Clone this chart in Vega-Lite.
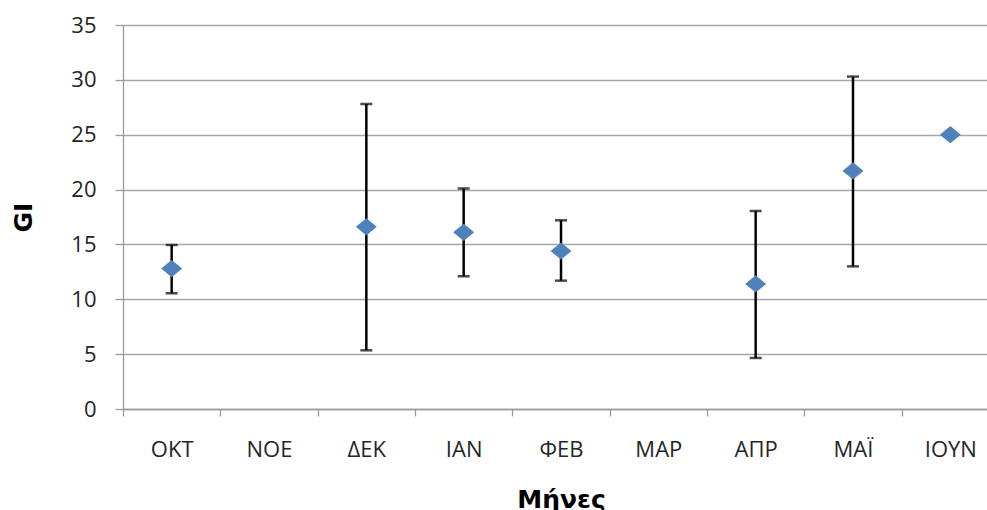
{
  "$schema": "https://vega.github.io/schema/vega-lite/v6.json",
  "autosize": "none",
  "width": 876,
  "height": 384,
  "padding": {"left": 123, "top": 25, "right": 0, "bottom": 101},
  "background": "white",
  "config": {
    "view": {"stroke": null},
    "font": "Open Sans"
  },
  "data": {
    "values": [
      {"month": "ΟΚΤ", "gi": 12.8, "lo": 10.55, "hi": 14.95},
      {"month": "ΔΕΚ", "gi": 16.6, "lo": 5.35, "hi": 27.8},
      {"month": "ΙΑΝ", "gi": 16.1, "lo": 12.1, "hi": 20.1},
      {"month": "ΦΕΒ", "gi": 14.4, "lo": 11.7, "hi": 17.2},
      {"month": "ΑΠΡ", "gi": 11.4, "lo": 4.65, "hi": 18.05},
      {"month": "ΜΑΪ", "gi": 21.7, "lo": 13.0, "hi": 30.3},
      {"month": "ΙΟΥΝ", "gi": 25.0}
    ]
  },
  "encoding": {
    "x": {
      "field": "month",
      "type": "nominal",
      "sort": null,
      "scale": {
        "domain": ["ΟΚΤ", "ΝΟΕ", "ΔΕΚ", "ΙΑΝ", "ΦΕΒ", "ΜΑΡ", "ΑΠΡ", "ΜΑΪ", "ΙΟΥΝ"],
        "paddingInner": 0,
        "paddingOuter": 0
      },
      "axis": {
        "title": "Μήνες",
        "titleFont": "DejaVu Sans",
        "titleFontWeight": "bold",
        "titleFontSize": 25,
        "titleColor": "#000000",
        "titleBaseline": "top",
        "titleX": 438,
        "titleY": 78,
        "labelAngle": 0,
        "labelFont": "Open Sans",
        "labelFontSize": 22,
        "labelColor": "#262626",
        "labelPadding": 23,
        "tickBand": "extent",
        "tickSize": 7,
        "tickColor": "#9a9a9a",
        "tickWidth": 1.3,
        "domainColor": "#9a9a9a",
        "domainWidth": 1.3,
        "grid": false
      }
    }
  },
  "layer": [
    {
      "mark": {"type": "rule", "color": "#000000", "strokeWidth": 2.5},
      "encoding": {
        "y": {
          "field": "lo",
          "type": "quantitative",
          "scale": {"domain": [0, 35], "nice": false},
          "axis": {
            "title": "GI",
            "titleFont": "DejaVu Sans",
            "titleFontWeight": "bold",
            "titleFontSize": 25,
            "titleColor": "#000000",
            "titleAngle": 270,
            "titleBaseline": "middle",
            "titleAlign": "center",
            "titleX": -100,
            "titleY": 192,
            "values": [0, 5, 10, 15, 20, 25, 30, 35],
            "labelFont": "Open Sans",
            "labelFontSize": 22,
            "labelColor": "#262626",
            "labelPadding": 19,
            "tickSize": 8,
            "tickColor": "#9a9a9a",
            "tickWidth": 1.3,
            "domainColor": "#9a9a9a",
            "domainWidth": 1.3,
            "grid": true,
            "gridColor": "#a6a6a6",
            "gridWidth": 1.3
          }
        },
        "y2": {"field": "hi"}
      }
    },
    {
      "mark": {"type": "tick", "color": "#000000", "size": 12, "thickness": 2.5, "orient": "horizontal"},
      "encoding": {"y": {"field": "lo", "type": "quantitative"}}
    },
    {
      "mark": {"type": "tick", "color": "#000000", "size": 12, "thickness": 2.5, "orient": "horizontal"},
      "encoding": {"y": {"field": "hi", "type": "quantitative"}}
    },
    {
      "mark": {
        "type": "point",
        "shape": "M-1,0L0,-0.82L1,0L0,0.82Z",
        "filled": true,
        "color": "#4F81BD",
        "opacity": 1,
        "size": 441
      },
      "encoding": {"y": {"field": "gi", "type": "quantitative"}}
    }
  ]
}
